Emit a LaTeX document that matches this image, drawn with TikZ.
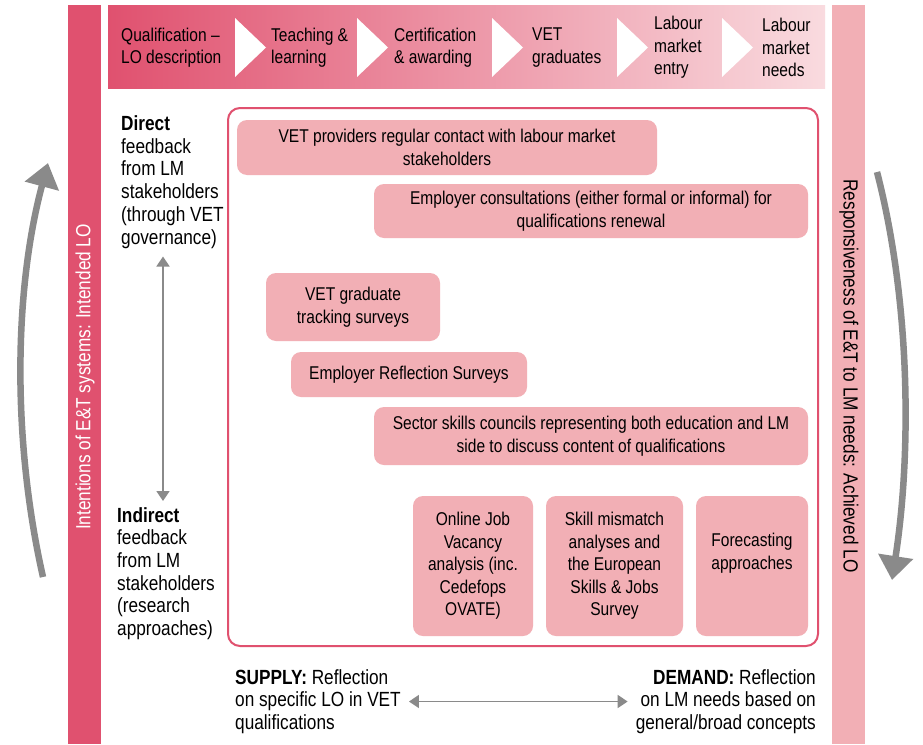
\documentclass[tikz,border=0pt]{standalone}
\usepackage{fontspec}
\setmainfont[FakeStretch=0.84]{Liberation Sans}
\usetikzlibrary{arrows.meta}
\definecolor{deeppink}{HTML}{E0516F}
\definecolor{softpink}{HTML}{F2AFB5}
\definecolor{palepink}{HTML}{F9DBDF}
\definecolor{arrowgray}{HTML}{8A8A8A}

\begin{document}
\begin{tikzpicture}[x=1pt,y=-1pt,
  font=\fontsize{18.5}{22.5}\selectfont,
  card/.style={fill=softpink, rounded corners=10pt, align=center, inner sep=0pt},
  steplabel/.style={anchor=west, align=left, inner sep=0pt},
  chevron/.style={fill=white},
  sidetext/.style={inner sep=0pt, font=\fontsize{20.5}{24}\selectfont},
  axistext/.style={inner sep=0pt, font=\fontsize{20.5}{22.7}\selectfont},
  thinarrow/.style={arrowgray, line width=1.6pt, {Triangle[length=10pt,width=13pt]}-{Triangle[length=10pt,width=13pt]}},
  bigarrow/.style={arrowgray, line width=6.5pt, -{Triangle[length=24pt,width=34pt]}}]
\useasboundingbox (0,0) rectangle (923,744);
\fill[white] (0,0) rectangle (923,744);

% side bars
\fill[deeppink] (68,5) rectangle (101,744);
\fill[softpink] (832,5) rectangle (865,744);
\node[rotate=90, text=white, sidetext] (intentions) at (85,377) {Intentions of E\&T systems: Intended LO};
\node[rotate=-90, sidetext] (responsiveness) at (849,376) {Responsiveness of E\&T to LM needs: Achieved LO};

% process banner
\shade[left color=deeppink, right color=palepink] (108,5) rectangle (825,88);
\foreach \cx in {235,357,492,617,722}
  \fill[chevron] (\cx,18) -- (\cx+31,47.5) -- (\cx,77) -- cycle;
\node[steplabel] (s1) at (121,47.5) {Qualification –\\LO description};
\node[steplabel] (s2) at (271,47.5) {Teaching \&\\learning};
\node[steplabel] (s3) at (394,47.5) {Certification\\\& awarding};
\node[steplabel] (s4) at (532,47.5) {VET\\graduates};
\node[steplabel] (s5) at (654,47.5) {Labour\\market\\entry};
\node[steplabel] (s6) at (762,47.5) {Labour\\market\\needs};

% frame holding the feedback mechanisms
\node[draw=deeppink, line width=2pt, rounded corners=12pt, minimum width=590pt, minimum height=538pt, inner sep=0pt] (frame) at (523,377) {};

\node[card, minimum width=420pt, minimum height=55pt] (c1) at (447,147.5) {VET providers regular contact with labour market\\stakeholders};
\node[card, minimum width=434pt, minimum height=54pt] (c2) at (591,211) {Employer consultations (either formal or informal) for\\qualifications renewal};
\node[card, minimum width=174pt, minimum height=68pt] (c3) at (353,307) {VET graduate\\tracking surveys};
\node[card, minimum width=236pt, minimum height=45pt] (c4) at (409,374.5) {Employer Reflection Surveys};
\node[card, minimum width=434pt, minimum height=58pt] (c5) at (591,436) {Sector skills councils representing both education and LM\\side to discuss content of qualifications};
\node[card, minimum width=120pt, minimum height=140pt] (c6) at (473,566) {Online Job\\Vacancy\\analysis (inc.\\Cedefops\\OVATE)};
\node[card, minimum width=137pt, minimum height=140pt] (c7) at (614.5,566) {Skill mismatch\\analyses and\\the European\\Skills \& Jobs\\Survey};
\node[card, minimum width=112pt, minimum height=140pt] (c8) at (752,566) {Forecasting\\approaches\\\strut};

% direct / indirect axis
\node[axistext, anchor=west, align=left] (direct) at (121,182) {\textbf{Direct}\\feedback\\from LM\\stakeholders\\(through VET\\governance)};
\node[axistext, anchor=west, align=left] (indirect) at (117,573.5) {\textbf{Indirect}\\feedback\\from LM\\stakeholders\\(research\\approaches)};
\coordinate (vaxis) at (163,0);
\path (direct.south -| vaxis) ++(0,8) coordinate (vtop);
\path (indirect.north -| vaxis) ++(0,-6) coordinate (vbot);
\draw[thinarrow] (vtop) -- (vbot);

% supply / demand axis
\node[axistext, anchor=west, align=left] (supply) at (235,701.5) {\textbf{SUPPLY:} Reflection\\on specific LO in VET\\qualifications};
\node[axistext, anchor=east, align=right] (demand) at (816,701.5) {\textbf{DEMAND:} Reflection\\on LM needs based on\\general/broad concepts};
\draw[thinarrow, shorten <=8pt, shorten >=8pt] (supply.east) -- (demand.west);

% cycle arrows
\coordinate (ltail) at (43,577);
\coordinate (lhead) at (48,163);
\draw[bigarrow] (ltail) .. controls (12,440) and (14,290) .. (lhead);
\coordinate (rtail) at (877,172);
\coordinate (rhead) at (892,580);
\draw[bigarrow] (rtail) .. controls (910,300) and (912,450) .. (rhead);
\end{tikzpicture}
\end{document}
